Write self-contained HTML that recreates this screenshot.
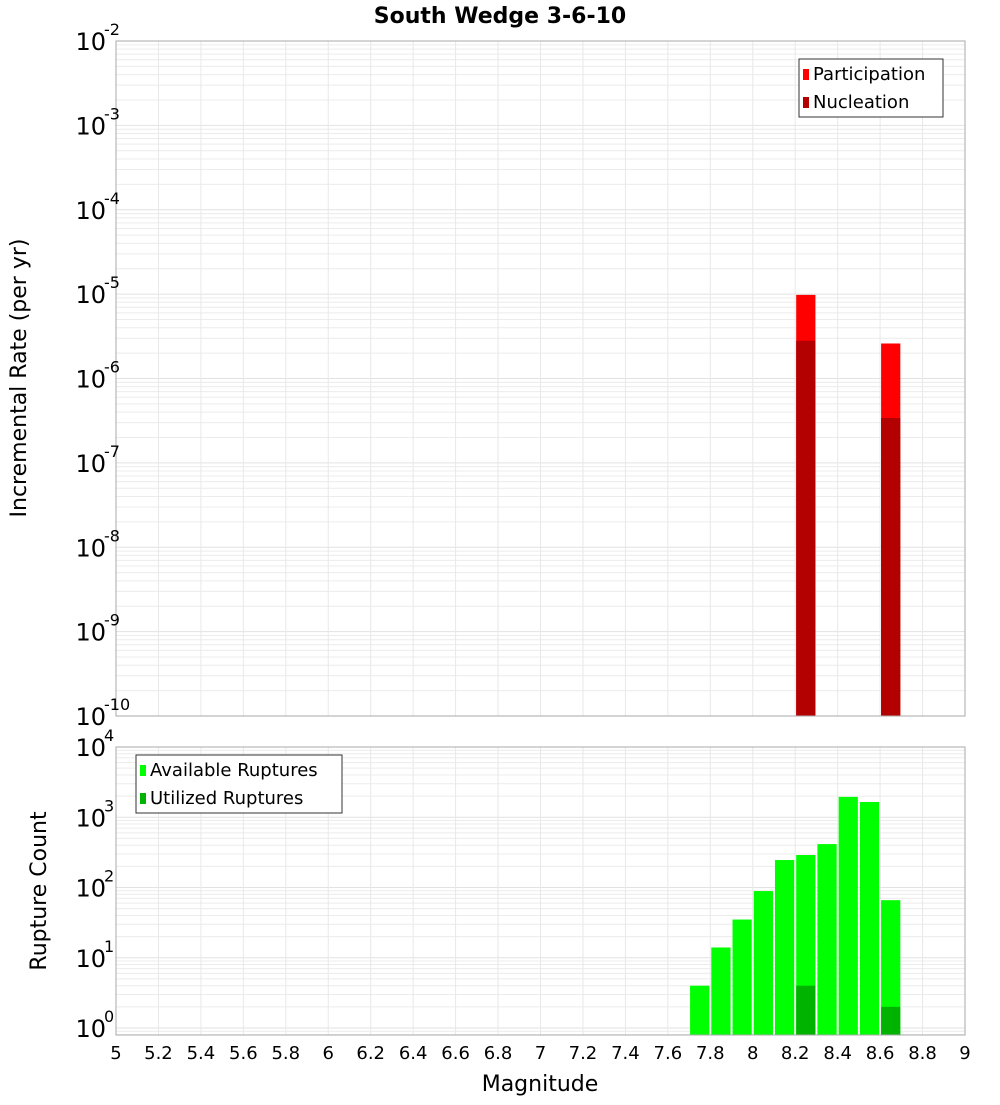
<!DOCTYPE html>
<html><head><meta charset="utf-8"><style>
body{margin:0;background:#fff;}
svg text{font-family:"DejaVu Sans","Liberation Sans",sans-serif;}
</style></head><body>
<svg id="c" width="1000" height="1100" xmlns="http://www.w3.org/2000/svg">
<text x="500" y="23" text-anchor="middle" font-size="22" font-weight="bold">South Wedge 3-6-10</text>
<text transform="translate(26,378) rotate(-90)" text-anchor="middle" font-size="22">Incremental Rate (per yr)</text>
<text transform="translate(46,891) rotate(-90)" text-anchor="middle" font-size="22">Rupture Count</text>
<text x="540" y="1091" text-anchor="middle" font-size="22">Magnitude</text>
<g id="g"></g>
</svg>
<script>
const bins=[7.75,7.85,7.95,8.05,8.15,8.25,8.35,8.45,8.55,8.65];
const available=[4,14,35,89,246,290,415,1950,1650,66];
const utilized=[0,0,0,0,0,4,0,0,0,2];
const rateMags=[8.25,8.65];
const participation=[9.8e-6,2.6e-6];
const nucleation=[2.8e-6,3.4e-7];
const xTicks=["5","5.2","5.4","5.6","5.8","6","6.2","6.4","6.6","6.8","7","7.2","7.4","7.6","7.8","8","8.2","8.4","8.6","8.8","9"];
const topExp=[-2,-3,-4,-5,-6,-7,-8,-9,-10];
const botExp=[4,3,2,1,0];

const NS="http://www.w3.org/2000/svg",G=document.getElementById('g');
function el(t,a,p){const e=document.createElementNS(NS,t);for(const k in a)e.setAttribute(k,a[k]);(p||G).appendChild(e);return e;}
const X0=116,X1=965;
const xs=m=>X0+(m-5)/4*(X1-X0);
const yTop=v=>41+(-2-Math.log10(v))*84.375;
const yBot=v=>747+(4-Math.log10(v))*70.25;

function panel(yt,yb,yf,minE,maxE,name){
  const bg=el('rect',{x:X0,y:yt,width:X1-X0,height:yb-yt,fill:'#fff'});
  
  
  for(let e=minE-1;e<=maxE;e++)for(let k=1;k<10;k++){const y=yf(k*Math.pow(10,e));if(y<yt||y>yb)continue;
    const l=el('line',{x1:X0,x2:X1,y1:y,y2:y,stroke:k==1?'#e2e2e2':'#ececec','stroke-width':1});
    
    }
  xTicks.forEach(t=>{const x=xs(+t);const l=el('line',{x1:x,x2:x,y1:yt,y2:yb,stroke:'#e8e8e8'});
    
    });
}
panel(41,716,yTop,-10,-2,'top');
panel(747,1035,yBot,0,4,'bottom');

// top bars
rateMags.forEach((m,i)=>{
  const x=xs(m-0.05)+1,w=xs(m+0.05)-xs(m-0.05)-2;
  const p=el('rect',{x:x,y:yTop(participation[i]),width:w,height:716-yTop(participation[i]),fill:'#ff0000'});
  
  
  const n=el('rect',{x:x,y:yTop(nucleation[i]),width:w,height:716-yTop(nucleation[i]),fill:'#b30000'});
  
  
});
// bottom bars
bins.forEach((m,i)=>{
  const x=xs(m-0.05)+1,w=xs(m+0.05)-xs(m-0.05)-2;
  if(available[i]>0){const a=el('rect',{x:x,y:yBot(available[i]),width:w,height:1035-yBot(available[i]),fill:'#00ff00'});
    
    }
  if(utilized[i]>0){const u=el('rect',{x:x,y:yBot(utilized[i]),width:w,height:1035-yBot(utilized[i]),fill:'#00b300'});
    
    }
});
// frames
[[41,716,'top'],[747,1035,'bottom']].forEach(([a,b,n])=>{const r=el('rect',{x:X0,y:a,width:X1-X0,height:b-a,fill:'none',stroke:'#aaa'});
  
  });
// y tick labels
function ylab(y,e,name){const t=el('text',{x:106,y:y+9,'text-anchor':'end','font-size':24});
  
  
  t.textContent='10';
  const s=el('text',{x:104,y:y-6,'font-size':16});
  
  
  s.textContent=String(e);}
topExp.forEach(e=>ylab(yTop(Math.pow(10,e)),e,'top-y-tick-label'));
botExp.forEach(e=>ylab(yBot(Math.pow(10,e)),e,'bottom-y-tick-label'));
xTicks.forEach(t=>{const l=el('text',{x:xs(+t),y:1059,'text-anchor':'middle','font-size':18});
  
  
  l.textContent=t;});
// legends
function legend(x,y,w,items,name){const g=el('g',{});
  
  
  el('rect',{x:x,y:y,width:w,height:58,fill:'#fff',stroke:'#333'},g);
  items.forEach(([c,t],i)=>{el('rect',{x:x+4,y:y+10+i*28,width:6,height:11,fill:c},g);
    const tx=el('text',{x:x+14,y:y+21+i*28,'font-size':18},g);
    
    
    tx.textContent=t;});}
legend(799,59,144,[['#ff0000','Participation'],['#b30000','Nucleation']],'top-legend');
legend(136,755,206,[['#00ff00','Available Ruptures'],['#00b300','Utilized Ruptures']],'bottom-legend');
</script>
</body></html>
